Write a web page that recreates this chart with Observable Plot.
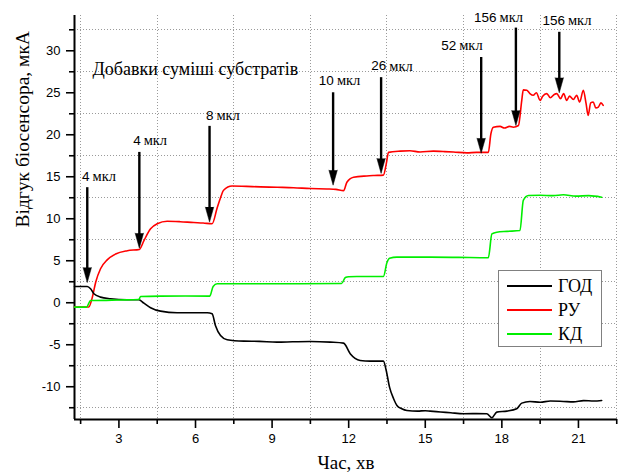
<!DOCTYPE html>
<html><head><meta charset="utf-8">
<script src="https://cdn.jsdelivr.net/npm/d3@7"></script>
<script src="https://cdn.jsdelivr.net/npm/@observablehq/plot@0.6"></script>
<style>
body{margin:0;background:#fff}
#wrap{position:relative;width:618px;height:476px;overflow:hidden}
#legend{position:absolute;left:498px;top:270px;width:104px;height:77px;border:1px solid #808080;background:#fff;box-sizing:border-box;font-family:"Liberation Serif",serif;font-size:18px}
#legend .row{position:absolute;left:8px;height:22px;display:flex;align-items:center}
#legend .sw{width:45px;height:2px;margin-right:6px}
</style>
</head><body><div id="wrap"></div>
<script>
// ---- data ----
const godT = [1.26,1.76,1.89,2.02,2.28,2.67,3.32,3.78,3.98,4.24,4.63,5.28,6.46,6.65,6.78,6.98,7.24,7.89,8.5,9.19,9.8,10.5,11.28,11.8,12.06,12.45,12.84,13.36,13.47,13.6,13.76,13.89,14.08,14.28,14.7,15.0,15.19,15.6,16.0,16.5,17.0,17.41,17.61,17.8,18.2,18.58,18.78,19.1,19.5,19.9,20.41,20.8,21.2,21.6,21.91];
const godV = [1.94,1.94,1.67,1.07,0.67,0.48,0.36,0.36,-0.05,-0.6,-1.0,-1.19,-1.19,-1.31,-2.7,-3.9,-4.4,-4.57,-4.6,-4.69,-4.65,-4.61,-4.69,-4.81,-6.07,-6.87,-6.95,-6.95,-8.06,-10.05,-11.43,-12.23,-12.62,-12.82,-12.9,-12.85,-12.9,-13.0,-13.1,-13.21,-13.2,-13.21,-13.69,-13.02,-12.9,-12.62,-11.95,-11.75,-11.85,-11.7,-11.75,-11.8,-11.65,-11.7,-11.63];

const ruT = [1.26,1.82,1.96,2.09,2.28,2.54,2.87,3.33,3.80,3.98,4.24,4.5,4.89,5.4,5.93,6.3,6.65,6.85,6.98,7.1,7.43,8.0,8.54,9.2,9.84,10.5,11.15,11.5,11.8,11.93,12.19,12.71,13.0,13.36,13.47,13.56,14.02,14.4,14.8,15.32,15.7,16.1,16.63,17.0,17.47,17.57,17.67,17.93,18.1,18.3,18.45,18.65,18.78,18.84,18.98,19.1,19.23,19.35,19.5,19.6,19.76,19.9,20.05,20.15,20.3,20.42,20.54,20.65,20.8,20.93,21.05,21.19,21.3,21.38,21.48,21.58,21.68,21.78,21.88,21.97];
const ruV = [-0.5,-0.5,0.67,2.45,4.05,5.1,5.8,6.2,6.35,7.4,8.8,9.4,9.7,9.65,9.55,9.5,9.4,11.3,12.5,13.4,13.9,13.85,13.8,13.75,13.7,13.6,13.55,13.5,13.35,14.35,14.95,15.1,15.15,15.2,16.5,17.9,18.05,18.1,17.95,18.05,18.0,17.95,17.85,17.9,17.9,20.1,20.9,21.0,20.8,21.0,20.9,21.1,24.1,25.35,25.3,24.9,24.7,25.0,24.1,24.6,24.9,24.4,24.8,24.9,24.3,24.9,24.1,24.6,24.2,24.7,23.9,25.3,23.7,22.3,23.8,23.9,23.2,23.3,23.8,23.5];

const kdT = [1.26,1.73,1.89,2.02,3.0,3.78,3.85,4.63,5.6,6.56,6.69,6.85,8.54,10.1,11.72,11.87,12.0,12.32,13.36,13.5,13.6,13.89,15.19,16.3,17.47,17.61,17.8,18.2,18.71,18.84,19.04,19.5,20.0,20.41,20.9,21.4,21.91];
const kdV = [-0.52,-0.52,0.27,0.27,0.33,0.39,0.75,0.79,0.8,0.79,1.94,2.26,2.26,2.26,2.3,3.0,3.1,3.13,3.13,4.8,5.3,5.43,5.43,5.4,5.36,8.2,8.4,8.5,8.6,12.2,12.77,12.8,12.75,12.85,12.7,12.75,12.57];

// additions (arrows)
const arrowT   = [1.76,3.80,6.55,11.39,13.27,17.19,18.55,20.25];
const arrowTop = [13.7,17.9,21.0,25.0,26.8,29.2,32.7,32.2];
const arrowTip = [2.4,6.5,9.6,14.0,15.4,17.8,21.1,25.0];
const labelNum = ["4","4","8","10","26","52","156","156"];
const labelT   = [1.89,3.89,6.74,11.46,13.51,16.25,17.83,20.51];
const labelV   = [15.0,19.3,22.3,26.5,28.2,30.6,34.0,33.6];
const unitText = "мкл";

const xDomain = [1.26, 22.53];
const yDomain = [-13.9, 34.2];
const xMajor = [3,6,9,12,15,18,21];
const xMinor = [1.5,4.5,7.5,10.5,13.5,16.5,19.5,22.5];
const yMajor = [-10,-5,0,5,10,15,20,25,30];
const yMinor = [-12.5,-7.5,-2.5,2.5,7.5,12.5,17.5,22.5,27.5,32.5];

const title = "Добавки суміші субстратів";
const xLabel = "Час, хв";
const yLabel = "Відгук біосенсора, мкА";
const seriesNames = ["ГОД","РУ","КД"];
const seriesColors = ["#000000","#ff0000","#00ee00"];

// ---- build ----
const zip = (T,V) => T.map((t,i)=>({t, v:V[i]}));
const god = zip(godT, godV), ru = zip(ruT, ruV), kd = zip(kdT, kdV);
const arrows = arrowT.map((t,i)=>({t, top:arrowTop[i], tip:arrowTip[i], num:labelNum[i], lt:labelT[i], lv:labelV[i]}));

const serif = "'Liberation Serif','Times New Roman',serif";
const sans = "'Liberation Sans',Arial,sans-serif";

const chart = Plot.plot({
  width: 618, height: 476,
  marginLeft: 74, marginRight: 1, marginTop: 15, marginBottom: 57,
  style: {fontFamily: sans, fontSize: "13px", background: "#fff", overflow: "visible"},
  x: {domain: xDomain},
  y: {domain: yDomain},
  marks: [
    Plot.ruleX(xMinor, {stroke: "#9a9a9a", strokeOpacity: 1, strokeWidth: 1, strokeDasharray: "1,2", shapeRendering: "crispEdges"}),
    Plot.ruleY(yMinor, {stroke: "#9a9a9a", strokeOpacity: 1, strokeWidth: 1, strokeDasharray: "1,2", shapeRendering: "crispEdges"}),
    Plot.axisY(yMajor, {tickSize: 8, tickPadding: 6, strokeWidth: 1.6, fontSize: 13, fontFamily: sans, tickFormat: d => String(d), label: null}),
    Plot.axisY(yMinor, {tickSize: 5, strokeWidth: 1.6, tickFormat: () => "", label: null}),
    Plot.axisX(xMajor, {tickSize: 9, tickPadding: 5, strokeWidth: 1.6, fontSize: 13, fontFamily: sans, label: null}),
    Plot.axisX(xMinor, {tickSize: 5, strokeWidth: 1.6, tickFormat: () => "", label: null}),
    Plot.ruleX([xDomain[0]], {strokeWidth: 2}),
    Plot.ruleY([yDomain[0]], {strokeWidth: 2}),
    Plot.line(ru, {x: "t", y: "v", stroke: seriesColors[1], strokeWidth: 1.6, curve: "monotone-x"}),
    Plot.line(god, {x: "t", y: "v", stroke: seriesColors[0], strokeWidth: 1.6, curve: "monotone-x"}),
    Plot.line(kd, {x: "t", y: "v", stroke: seriesColors[2], strokeWidth: 1.6, curve: "monotone-x"}),
    Plot.ruleX(arrows, {x: "t", y1: "top", y2: "tip", strokeWidth: 2.4, insetBottom: 8}),
    Plot.vector(arrows, {x: "t", y: "tip", length: 15, rotate: 180, anchor: "end", shape: "spike", r: 4.2, fill: "black", stroke: "black", strokeWidth: 0.5}),
    Plot.text(arrows, {x: "lt", y: "lv", text: "num", textAnchor: "end", fontFamily: sans, fontSize: 13.5, dx: -1}),
    Plot.text(arrows, {x: "lt", y: "lv", text: () => unitText, textAnchor: "start", fontFamily: serif, fontSize: 14.5, dx: 2}),
    Plot.text([title], {frameAnchor: "top-left", dx: 18, dy: 47, textAnchor: "start", fontFamily: serif, fontSize: 18}),
    Plot.text([xLabel], {frameAnchor: "bottom", dy: 49, fontFamily: serif, fontSize: 19}),
    Plot.text([yLabel], {frameAnchor: "left", rotate: -90, dx: -52, dy: 10, fontFamily: serif, fontSize: 19.5})
  ]
});
const wrap = document.getElementById("wrap");
wrap.appendChild(chart);

const legend = document.createElement("div");
legend.id = "legend";
seriesNames.forEach((name, i) => {
  const row = document.createElement("div");
  row.className = "row";
  row.style.top = (4 + i * 24) + "px";
  const sw = document.createElement("div");
  sw.className = "sw";
  sw.style.background = seriesColors[i];
  const lab = document.createElement("span");
  lab.textContent = name;
  row.appendChild(sw); row.appendChild(lab);
  legend.appendChild(row);
});
wrap.appendChild(legend);
</script>
</body></html>
